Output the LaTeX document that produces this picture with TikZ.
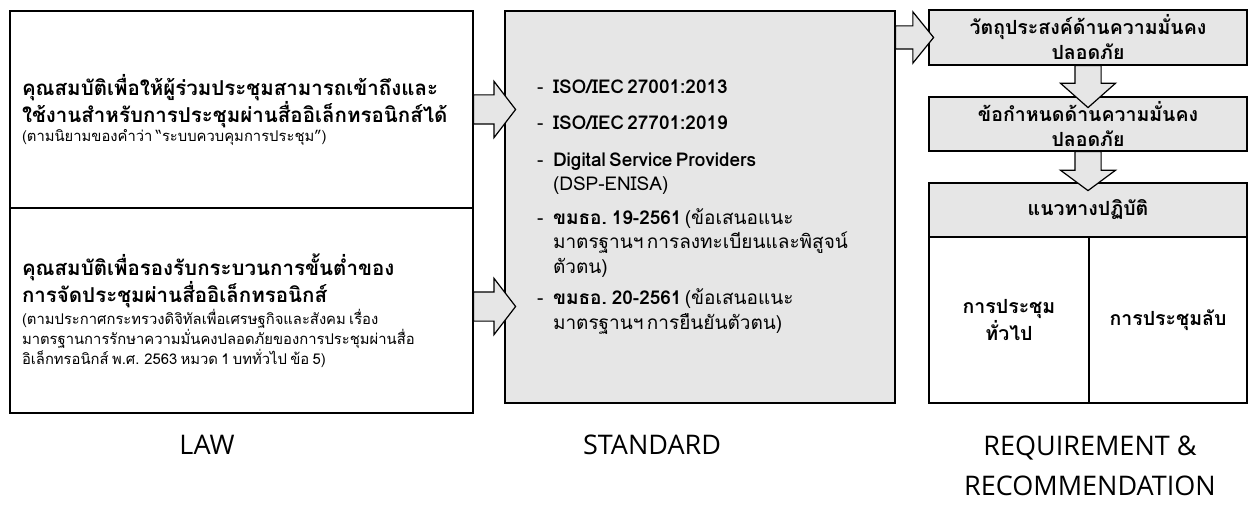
\documentclass[tikz,border=0pt]{standalone}
\usepackage{fontspec}
\setmainfont[Script=Thai]{Loma}
\newfontfamily\labelfont{Open Sans}
\usetikzlibrary{positioning,shapes.arrows}
\definecolor{boxgray}{RGB}{230,230,230}

\newcommand\bigtxt{\fontsize{20.5}{24}\selectfont\bfseries}
\newcommand\smalltxt{\fontsize{14.8}{15.5}\selectfont\mdseries}
\newcommand\stdtxt{\fontsize{19}{24.5}\selectfont}
\newcommand\dashitem{\makebox[16pt][l]{\mdseries -}}
\newcommand\hangin{\hspace*{16pt}}

\begin{document}
\begin{tikzpicture}[x=1pt,y=-1pt,
    box/.style={%
      draw,
      rectangle,
      line width=2pt,
      outer sep=0pt,
    },
    graybox/.style={box, fill=boxgray},
    lawbox/.style={box, minimum width=463pt, inner xsep=12pt,
      text width=439pt, align=left},
    reqbox/.style={graybox, minimum width=318pt, minimum height=54pt,
      align=center, font=\fontsize{19.5}{25}\selectfont\bfseries},
    blockarrow/.style={single arrow, draw, line width=1.2pt, fill=boxgray,
      inner xsep=0pt, anchor=tail},
    caption/.style={font=\labelfont\fontsize{27}{40}\selectfont, align=center},
  ]
    \useasboundingbox (0,0) rectangle (1249,508);

    % law
    \node [lawbox, minimum height=197pt] (law1) at (241.5,109.5)
      {{\bigtxt คุณสมบัติเพื่อให้ผู้ร่วมประชุมสามารถเข้าถึงและ\\
        ใช้งานสำหรับการประชุมผ่านสื่ออิเล็กทรอนิกส์ได้\par}
       {\smalltxt (ตามนิยามของคำว่า “ระบบควบคุมการประชุม”)\par}};
    \node [lawbox, minimum height=205pt, below=0pt of law1] (law2)
      {{\bigtxt คุณสมบัติเพื่อรองรับกระบวนการขั้นต่ำของ\\
        การจัดประชุมผ่านสื่ออิเล็กทรอนิกส์\par}
       {\smalltxt (ตามประกาศกระทรวงดิจิทัลเพื่อเศรษฐกิจและสังคม เรื่อง\\
        มาตรฐานการรักษาความมั่นคงปลอดภัยของการประชุมผ่านสื่อ\\
        อิเล็กทรอนิกส์ พ.ศ. 2563 หมวด 1 บททั่วไป ข้อ 5)\par}};

    % standard
    \node [graybox, minimum width=390pt, minimum height=392pt,
      inner xsep=32pt, text width=326pt, align=left] (std) at (700,207)
      {\stdtxt
       \dashitem\textbf{ISO/IEC 27001:2013}\\[12pt]
       \dashitem\textbf{ISO/IEC 27701:2019}\\[12pt]
       \dashitem\textbf{Digital Service Providers}\\
       \hangin(DSP-ENISA)\\[9pt]
       \dashitem\textbf{ขมธอ. 19-2561} (ข้อเสนอแนะ\\
       \hangin มาตรฐานฯ การลงทะเบียนและพิสูจน์\\
       \hangin ตัวตน)\\[7pt]
       \dashitem\textbf{ขมธอ. 20-2561} (ข้อเสนอแนะ\\
       \hangin มาตรฐานฯ การยืนยันตัวตน)\par};

    % requirement & recommendation
    \node [reqbox, minimum height=55pt] (req1) at (1088,37.5)
      {วัตถุประสงค์ด้านความมั่นคง\\ปลอดภัย};
    \node [reqbox, below=32pt of req1] (req2)
      {ข้อกำหนดด้านความมั่นคง\\ปลอดภัย};
    \node [reqbox, below=32pt of req2] (reqhead) {แนวทางปฏิบัติ};
    \node [box, minimum width=160pt, minimum height=166pt, align=center,
      font=\fontsize{19.5}{25}\selectfont\bfseries, anchor=north west]
      (general) at (reqhead.south west) {การประชุม\\ทั่วไป};
    \node [box, minimum width=158pt, minimum height=166pt,
      font=\fontsize{19.5}{25}\selectfont\bfseries, right=0pt of general]
      (secret) {การประชุมลับ};

    % block arrows
    \node [blockarrow, inner ysep=14pt, single arrow head extend=13.5pt,
      single arrow tip angle=105, minimum height=42pt] (arrL1) at (law1.east) {};
    \node [blockarrow, inner ysep=14pt, single arrow head extend=13.5pt,
      single arrow tip angle=105, minimum height=42pt] (arrL2)
      at ([yshift=4pt]law2.east) {};
    \node [blockarrow, inner ysep=11pt, single arrow head extend=14pt,
      single arrow tip angle=102, minimum height=38pt] (arrS)
      at (std.east |- req1.west) {};
    \node [blockarrow, rotate=-90, inner ysep=12.5pt, single arrow head extend=14.5pt,
      single arrow tip angle=97, minimum height=42pt] (arrR1) at (req1.south) {};
    \node [blockarrow, rotate=-90, inner ysep=12.5pt, single arrow head extend=14.5pt,
      single arrow tip angle=107, minimum height=39pt] (arrR2) at (req2.south) {};

    % captions
    \node [caption] (lawlbl) at (207,445) {LAW};
    \node [caption] (stdlbl) at (652,445) {STANDARD};
    \node [caption] (reqlbl) at (1090,466) {REQUIREMENT \&\\RECOMMENDATION};
\end{tikzpicture}
\end{document}
